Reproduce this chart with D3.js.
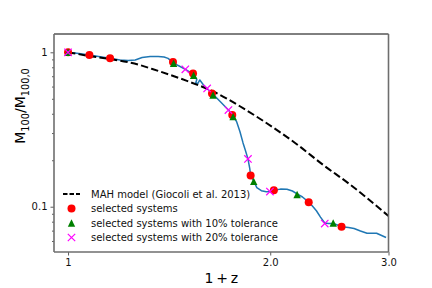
<!DOCTYPE html>
<html>

<head>
    <meta charset="UTF-8">
    <title>MAH</title>
    <script src="https://d3js.org/d3.v7.min.js"></script>
    <style>
        body {
            margin: 0;
            background: #fff;
        }

        text {
            font-family: "DejaVu Sans", sans-serif;
        }
    </style>
</head>

<body>
    <div id="chart"></div>
    <script>
        // simulated halo history (blue line)
        const treeZ = [1.0, 1.038, 1.076, 1.116, 1.155, 1.195, 1.229, 1.259, 1.289, 1.325, 1.362, 1.390, 1.409, 1.433,
            1.459, 1.495, 1.535, 1.555, 1.549, 1.560, 1.571, 1.591, 1.619, 1.644, 1.686, 1.733, 1.759, 1.783, 1.803,
            1.822, 1.836, 1.853, 1.864, 1.871, 1.890, 1.910, 1.940, 1.974, 1.998, 2.025, 2.071, 2.118, 2.158, 2.193,
            2.234, 2.282, 2.311, 2.343, 2.376, 2.411, 2.442, 2.482, 2.518, 2.554, 2.616, 2.666, 2.725, 2.787, 2.880,
            2.930, 2.975];
        const treeM = [1.0, 0.982, 0.961, 0.936, 0.914, 0.892, 0.885, 0.892, 0.925, 0.939, 0.939, 0.932, 0.914, 0.861,
            0.821, 0.776, 0.726, 0.667, 0.633, 0.628, 0.662, 0.614, 0.570, 0.535, 0.479, 0.423, 0.390, 0.354, 0.306,
            0.259, 0.233, 0.204, 0.178, 0.158, 0.147, 0.133, 0.127, 0.125, 0.1254, 0.128, 0.130, 0.1297, 0.1264, 0.121,
            0.1156, 0.107, 0.101, 0.0942, 0.0857, 0.0784, 0.0778, 0.0780, 0.0761, 0.0742, 0.0733, 0.0722, 0.0696,
            0.0673, 0.0673, 0.0651, 0.0632];

        // MAH model (Giocoli et al. 2013)
        const mahZ = [1.0, 1.07, 1.28, 1.335, 1.5, 1.663, 1.8, 1.933, 2.188, 2.4, 2.625, 3.0];
        const mahM = [1.0, 0.95, 0.827, 0.78, 0.655, 0.545, 0.449, 0.37, 0.255, 0.186, 0.14, 0.087];

        // selected systems
        const selZ = [1.0, 1.076, 1.155, 1.433, 1.535, 1.638, 1.756, 1.870, 2.025, 2.282, 2.554];
        const selM = [1.0, 0.961, 0.914, 0.865, 0.729, 0.541, 0.393, 0.159, 0.128, 0.107, 0.0742];

        // 10% tolerance
        const tol10Z = [1.0, 1.436, 1.538, 1.644, 1.761, 1.890, 2.193, 2.482];
        const tol10M = [1.0, 0.849, 0.710, 0.529, 0.383, 0.146, 0.120, 0.0784];

        // 20% tolerance
        const tol20Z = [1.0, 1.495, 1.611, 1.733, 1.853, 1.998, 2.411];
        const tol20M = [1.0, 0.776, 0.583, 0.423, 0.204, 0.1254, 0.0778];

        const xTicks = [1, 2, 3];
        const xTickLabels = ["1", "2.0", "3.0"];
        const yTicks = [0.1, 1];
        const yTickLabels = ["0.1", "1"];
        const yMinor = [0.06, 0.07, 0.08, 0.09, 0.2, 0.3, 0.4, 0.5, 0.6, 0.7, 0.8, 0.9];

        const legendLabels = ["MAH model (Giocoli et al. 2013)", "selected systems",
            "selected systems with 10% tolerance", "selected systems with 20% tolerance"];

        const width = 432;
        const height = 288;
        const padL = 54, padR = 388.5, padT = 34, padB = 252;

        const svg = d3.select('#chart')
            .append('svg')
            .attr('width', width)
            .attr('height', height);

        const xScale = d3.scaleLog()
            .domain([0.953, 3.0])
            .range([padL, padR]);

        const yScale = d3.scaleLog()
            .domain([0.0509, 1.314])
            .range([padB, padT]);

        const tree = treeZ.map((z, i) => ({ z: z, m: treeM[i] }));
        const mah = mahZ.map((z, i) => ({ z: z, m: mahM[i] }));
        const sel = selZ.map((z, i) => ({ z: z, m: selM[i] }));
        const tol10 = tol10Z.map((z, i) => ({ z: z, m: tol10M[i] }));
        const tol20 = tol20Z.map((z, i) => ({ z: z, m: tol20M[i] }));

        const plot = svg.append('g');

        const line = d3.line()
            .x(d => xScale(d.z))
            .y(d => yScale(d.m));

        plot.append('path')
            .datum(tree)
            .attr('fill', 'none')
            .attr('stroke', '#1f77b4')
            .attr('stroke-width', 1.5)
            .attr('stroke-linejoin', 'round')
            .attr('d', line);

        plot.append('path')
            .datum(mah)
            .attr('fill', 'none')
            .attr('stroke', 'black')
            .attr('stroke-width', 2)
            .attr('stroke-dasharray', '7.4,3.2')
            .attr('d', line.curve(d3.curveMonotoneX));
        line.curve(d3.curveLinear);

        const r = 3.7;
        const triPath = `M0,${-r}L${r},${r}L${-r},${r}Z`;
        const xPath = `M${-r},${-r}L${r},${r}M${-r},${r}L${r},${-r}`;

        function drawCircles(g, data) {
            g.selectAll(null).data(data).enter().append('circle')
                .attr('cx', d => xScale(d.z))
                .attr('cy', d => yScale(d.m))
                .attr('r', 4)
                .attr('fill', 'red');
        }
        function drawTriangles(g, data) {
            g.selectAll(null).data(data).enter().append('path')
                .attr('transform', d => `translate(${xScale(d.z)},${yScale(d.m)})`)
                .attr('d', triPath)
                .attr('fill', 'green');
        }
        function drawCrosses(g, data) {
            g.selectAll(null).data(data).enter().append('path')
                .attr('transform', d => `translate(${xScale(d.z)},${yScale(d.m)})`)
                .attr('d', xPath)
                .attr('fill', 'none')
                .attr('stroke', 'magenta')
                .attr('stroke-width', 1.2);
        }
        drawCircles(plot, sel);
        drawTriangles(plot, tol10);
        drawCrosses(plot, tol20);

        // axes
        const xAxis = d3.axisBottom(xScale)
            .tickValues(xTicks)
            .tickFormat((d, i) => xTickLabels[i])
            .tickSize(3.5)
            .tickPadding(3);
        const yAxis = d3.axisLeft(yScale)
            .tickValues(yTicks)
            .tickFormat((d, i) => yTickLabels[i])
            .tickSize(3.5)
            .tickPadding(3);
        const yAxisMinor = d3.axisLeft(yScale)
            .tickValues(yMinor)
            .tickFormat('')
            .tickSize(2);

        const gx = svg.append('g')
            .attr('transform', `translate(0, ${padB})`)
            .call(xAxis);
        const gy = svg.append('g')
            .attr('transform', `translate(${padL}, 0)`)
            .call(yAxis);
        const gym = svg.append('g')
            .attr('transform', `translate(${padL}, 0)`)
            .call(yAxisMinor);

        [gx, gy, gym].forEach(g => {
            g.select('.domain').remove();
            g.selectAll('.tick line').attr('stroke', '#333').attr('stroke-width', 0.8);
            g.selectAll('.tick text').attr('font-size', 10).attr('fill', '#111')
                .attr('font-family', '"DejaVu Sans", sans-serif');
        });

        // spines
        svg.append('line').attr('x1', padL).attr('x2', padR).attr('y1', padT).attr('y2', padT)
            .attr('stroke', 'black').attr('stroke-width', 1);
        svg.append('line').attr('x1', padL).attr('x2', padL).attr('y1', padT).attr('y2', padB)
            .attr('stroke', '#6e6e6e').attr('stroke-width', 1.6);
        svg.append('line').attr('x1', padR).attr('x2', padR).attr('y1', padT).attr('y2', padB)
            .attr('stroke', '#6e6e6e').attr('stroke-width', 1.6);
        svg.append('line').attr('x1', padL).attr('x2', padR).attr('y1', padB).attr('y2', padB)
            .attr('stroke', '#6e6e6e').attr('stroke-width', 1.6);

        // axis labels
        svg.append('text')
            .attr('x', (padL + padR) / 2)
            .attr('y', 283)
            .attr('text-anchor', 'middle')
            .attr('font-size', 14)
            .text('1\u2009+\u2009z');

        const ylab = svg.append('text')
            .attr('transform', 'translate(25, 106) rotate(-90)')
            .attr('text-anchor', 'middle')
            .attr('font-size', 14);
        ylab.append('tspan').text('M');
        ylab.append('tspan').attr('font-size', 9.8).attr('dy', 3.5).text('100');
        ylab.append('tspan').attr('dy', -3.5).text('/M');
        ylab.append('tspan').attr('font-size', 9.8).attr('dy', 3.5).text('100,0');

        // legend
        const legend = svg.append('g');
        const rowY = [194, 208.5, 223, 237.5];
        const hx0 = 63, hx1 = 80, tx = 91;
        legend.append('line')
            .attr('x1', hx0).attr('x2', hx1)
            .attr('y1', rowY[0]).attr('y2', rowY[0])
            .attr('stroke', 'black').attr('stroke-width', 2)
            .attr('stroke-dasharray', '4.5,2');
        const hc = (hx0 + hx1) / 2;
        legend.append('circle').attr('cx', hc).attr('cy', rowY[1]).attr('r', 4).attr('fill', 'red');
        legend.append('path').attr('transform', `translate(${hc},${rowY[2]})`).attr('d', triPath).attr('fill', 'green');
        legend.append('path').attr('transform', `translate(${hc},${rowY[3]})`).attr('d', xPath)
            .attr('fill', 'none').attr('stroke', 'magenta').attr('stroke-width', 1.2);
        legend.selectAll(null).data(legendLabels).enter().append('text')
            .attr('x', tx)
            .attr('y', (d, i) => rowY[i])
            .attr('dy', '0.35em')
            .attr('font-size', 10)
            .attr('fill', '#111')
            .text(d => d);
    </script>
</body>

</html>
